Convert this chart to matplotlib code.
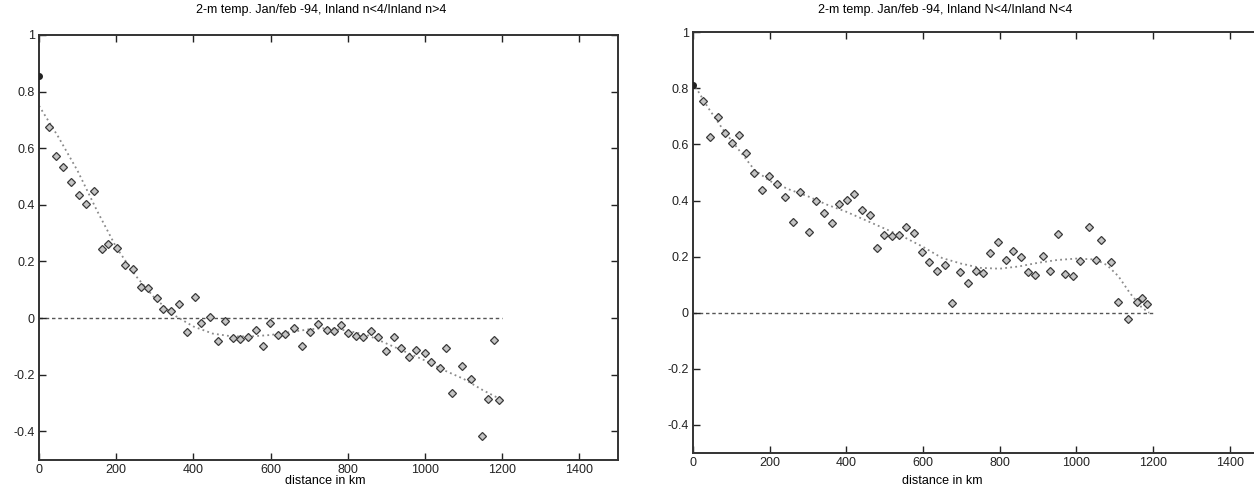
"""Two-panel correlation vs distance plot (2-m temp, Jan/feb -94)."""

import matplotlib.pyplot as plt

plt.rcParams["font.family"] = ["Liberation Sans", "DejaVu Sans"]

# left panel: Inland n<4 / Inland n>4
left_dist = [0, 26, 43, 63, 83, 103, 123, 142, 162, 180, 202, 223, 243, 263, 283,
             306, 321, 342, 364, 383, 405, 421, 444, 463, 483, 502, 521, 542, 561,
             580, 599, 620, 638, 661, 682, 701, 723, 745, 763, 782, 800, 820, 840,
             859, 878, 900, 919, 937, 958, 976, 999, 1015, 1040, 1055, 1071, 1097,
             1118, 1147, 1164, 1179, 1192]
left_corr = [0.856, 0.675, 0.571, 0.533, 0.479, 0.433, 0.402, 0.447, 0.245, 0.261,
             0.248, 0.188, 0.173, 0.108, 0.107, 0.072, 0.033, 0.026, 0.049, -0.051,
             0.074, -0.019, 0.005, -0.082, -0.010, -0.070, -0.075, -0.066, -0.042,
             -0.098, -0.019, -0.061, -0.057, -0.036, -0.100, -0.051, -0.021, -0.042,
             -0.046, -0.026, -0.052, -0.064, -0.066, -0.045, -0.066, -0.116, -0.066,
             -0.107, -0.137, -0.113, -0.123, -0.157, -0.178, -0.105, -0.266, -0.169,
             -0.216, -0.417, -0.287, -0.078, -0.289]
left_fit_dist = [0, 50, 100, 150, 200, 250, 300, 350, 400, 450, 500, 550, 600, 650,
                 700, 750, 800, 850, 900, 950, 1000, 1050, 1100, 1150, 1200]
left_fit_corr = [0.75, 0.64, 0.52, 0.38, 0.25, 0.15, 0.07, 0.01, -0.03, -0.055,
                 -0.065, -0.065, -0.06, -0.05, -0.04, -0.035, -0.045, -0.06, -0.09,
                 -0.12, -0.15, -0.185, -0.215, -0.255, -0.29]

# right panel: Inland N<4 / Inland N<4
right_dist = [0, 26, 44, 65, 83, 103, 120, 139, 158, 179, 198, 218, 239, 260, 280,
              302, 320, 341, 362, 381, 401, 420, 440, 461, 481, 499, 518, 537, 557,
              577, 598, 616, 636, 657, 677, 696, 718, 738, 757, 776, 795, 816, 836,
              855, 873, 893, 914, 932, 953, 971, 992, 1010, 1033, 1051, 1064, 1090,
              1110, 1136, 1158, 1171, 1184]
right_corr = [0.812, 0.756, 0.628, 0.699, 0.640, 0.604, 0.634, 0.569, 0.499, 0.438,
              0.488, 0.458, 0.414, 0.325, 0.432, 0.289, 0.400, 0.355, 0.321, 0.388,
              0.402, 0.422, 0.366, 0.349, 0.230, 0.277, 0.274, 0.278, 0.307, 0.283,
              0.216, 0.180, 0.149, 0.170, 0.036, 0.147, 0.105, 0.149, 0.143, 0.214,
              0.253, 0.187, 0.220, 0.198, 0.147, 0.135, 0.202, 0.149, 0.280, 0.139,
              0.131, 0.185, 0.307, 0.188, 0.260, 0.180, 0.040, -0.022, 0.037, 0.052,
              0.030]
right_fit_dist = [0, 40, 80, 120, 160, 200, 250, 300, 350, 400, 450, 500, 550, 600,
                  650, 700, 750, 800, 850, 900, 950, 1000, 1050, 1080, 1110, 1140,
                  1170, 1190]
right_fit_corr = [0.82, 0.73, 0.65, 0.58, 0.51, 0.47, 0.44, 0.415, 0.385, 0.36, 0.33,
                  0.30, 0.27, 0.235, 0.195, 0.175, 0.16, 0.157, 0.165, 0.178, 0.188,
                  0.193, 0.19, 0.17, 0.13, 0.07, 0.02, 0.0]

zero_dist = [0, 1200]
zero_corr = [0, 0]

titles = ["2-m temp. Jan/feb -94, Inland n<4/Inland n>4",
          "2-m temp. Jan/feb -94, Inland N<4/Inland N<4"]
x_ticks = [0, 200, 400, 600, 800, 1000, 1200, 1400]
y_ticks = [-0.4, -0.2, 0, 0.2, 0.4, 0.6, 0.8, 1]
y_labels = ["-0.4", "-0.2", "0", "0.2", "0.4", "0.6", "0.8", "1"]

fig = plt.figure(figsize=(12.54, 4.86), dpi=100)
ax_left = fig.add_axes([0.0311, 0.0545, 0.4617, 0.8735])
ax_right = fig.add_axes([0.5526, 0.0679, 0.4585, 0.8658])

panels = [
    (ax_left, left_dist, left_corr, left_fit_dist, left_fit_corr, 321 / 1254, 325 / 1254),
    (ax_right, right_dist, right_corr, right_fit_dist, right_fit_corr, 945 / 1254, 942 / 1254),
]

for i, (ax, dist, corr, fit_d, fit_c, title_x, label_x) in enumerate(panels):
    ax.plot(zero_dist, zero_corr, color="#555555", linewidth=1.0,
            linestyle=(0, (2.5, 2)), zorder=1)
    ax.plot(fit_d, fit_c, color="#8a8a8a", linewidth=1.3,
            linestyle=(0, (1, 1.8)), zorder=2)
    ax.plot(dist[1:], corr[1:], linestyle="none", marker="D", markersize=4.2,
            markerfacecolor="#c4c4c4", markeredgecolor="#3a3a3a",
            markeredgewidth=0.9, zorder=3)
    ax.plot(dist[:1], corr[:1], linestyle="none", marker="o", markersize=4,
            color="#222222", zorder=4)

    ax.set_xlim(0, 1500)
    ax.set_ylim(-0.5, 1)
    ax.set_xticks(x_ticks)
    ax.set_yticks(y_ticks)
    ax.set_yticklabels(y_labels)
    ax.tick_params(direction="in", length=5, width=1.0, top=True, right=True,
                   labelsize=9, pad=3, colors="#222222")
    for spine in ax.spines.values():
        spine.set_linewidth(1.4)
        spine.set_color("#333333")

    fig.text(title_x, 0.979, titles[i], ha="center", va="center", fontsize=9)
    fig.text(label_x, 0.010, "distance in km", ha="center", va="center", fontsize=9)

fig.savefig("out.png", dpi=100)
